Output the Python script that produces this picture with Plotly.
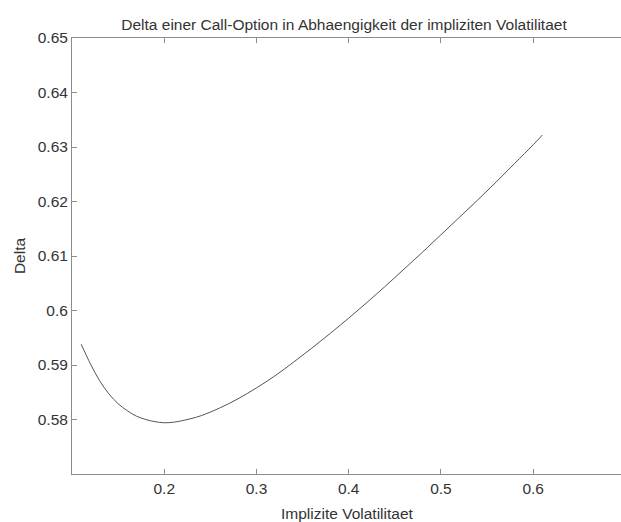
import plotly.graph_objects as go

# Implied volatility (x) and call delta (y)
vol = [0.11, 0.12, 0.13, 0.14, 0.15, 0.16, 0.17, 0.18, 0.19, 0.20, 0.21, 0.22,
       0.23, 0.24, 0.26, 0.28, 0.30, 0.32, 0.34, 0.36, 0.38, 0.40, 0.42, 0.44,
       0.46, 0.48, 0.50, 0.52, 0.54, 0.56, 0.58, 0.60, 0.61]
delta = [0.5938, 0.5902, 0.5871, 0.5847, 0.5829, 0.5816, 0.5806, 0.5800, 0.5796,
         0.5794, 0.5795, 0.5798, 0.5802, 0.5807, 0.5821, 0.5838, 0.5858, 0.5880,
         0.5905, 0.5931, 0.5958, 0.5986, 0.6015, 0.6045, 0.6076, 0.6107, 0.6139,
         0.6171, 0.6203, 0.6236, 0.6270, 0.6304, 0.6322]

x_ticks = [0.2, 0.3, 0.4, 0.5, 0.6]
y_ticks = [0.58, 0.59, 0.60, 0.61, 0.62, 0.63, 0.64, 0.65]
y_tick_text = ["0.58", "0.59", "0.6", "0.61", "0.62", "0.63", "0.64", "0.65"]

title = "Delta einer Call-Option in Abhaengigkeit der impliziten Volatilitaet"
x_title = "Implizite Volatilitaet"
y_title = "Delta"

font = "Liberation Sans, Arial, sans-serif"
axis_col = "#8c8c8c"
text_col = "#333333"
fs = 15.5
W, H = 621, 522

fig = go.Figure()
fig.add_trace(go.Scatter(x=vol, y=delta, mode="lines", line_shape="spline",
                         line=dict(color="#555555", width=1), showlegend=False))
# invisible trace to activate top axis
fig.add_trace(go.Scatter(x=vol, y=delta, xaxis="x2", mode="lines",
                         line=dict(width=0), opacity=0, showlegend=False,
                         hoverinfo="skip"))

fig.add_annotation(text=x_title, xref="paper", yref="paper",
                   x=(347 - 72) / (W - 72), y=-(513 - 474) / (474 - 38),
                   xanchor="center", yanchor="middle", showarrow=False,
                   font=dict(family=font, size=fs, color=text_col))

fig.update_layout(
    width=W, height=H,
    margin=dict(l=72, r=0, t=38, b=48),
    paper_bgcolor="white", plot_bgcolor="white",
    font=dict(family=font, size=fs, color=text_col),
    title=dict(text=title, x=344 / W, xanchor="center", xref="container",
               y=1 - 25 / H, yanchor="middle", yref="container",
               font=dict(family=font, size=fs, color=text_col)),
    xaxis=dict(range=[0.1, 0.6952], tickvals=x_ticks, ticktext=[str(v) for v in x_ticks],
               ticks="inside", ticklen=5, tickcolor=axis_col, showline=True,
               linecolor=axis_col, linewidth=1, showgrid=False, zeroline=False,
               tickfont=dict(size=fs)),
    xaxis2=dict(range=[0.1, 0.6952], overlaying="x", side="top", matches="x",
                tickvals=x_ticks, ticks="inside", ticklen=5, tickcolor=axis_col,
                showline=True, linecolor=axis_col, linewidth=1,
                showticklabels=False, showgrid=False, zeroline=False),
    yaxis=dict(range=[0.57, 0.65], tickvals=y_ticks, ticktext=y_tick_text,
               ticks="inside", ticklen=5, tickcolor=axis_col, showline=True,
               linecolor=axis_col, linewidth=1, showgrid=False, zeroline=False,
               title=dict(text=y_title, standoff=8, font=dict(size=fs)),
               tickfont=dict(size=fs)),
)

fig.write_html(
    "out.html",
    config={"displayModeBar": False},
    post_script="document.body.style.margin='0';document.body.style.overflow='hidden';",
)
